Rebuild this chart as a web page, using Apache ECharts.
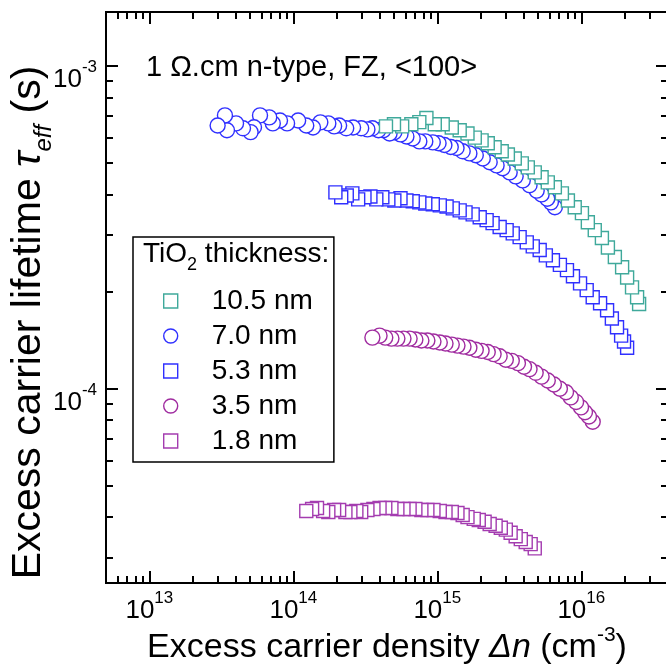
<!DOCTYPE html>
<html lang="en">
<head>
  <meta charset="UTF-8">
  <title>Excess carrier lifetime vs excess carrier density</title>
  <script src="https://cdn.jsdelivr.net/npm/echarts@6.0.0/dist/echarts.min.js"></script>
  <style>
    html, body { margin: 0; padding: 0; background: #fff; }
    #chart { width: 666px; height: 671px; }
  </style>
</head>
<body>
  <div id="chart"></div>

  <script>
    // values: dn in cm^-3, tau in s (listed from low to high dn)
    const dn105 = [4.4e14, 5.0e14, 5.7e14, 6.6e14, 7.5e14, 8.4e14, 9.6e14, 1.09e15, 1.26e15, 1.43e15, 1.62e15, 1.82e15, 2.03e15, 2.24e15, 2.5e15, 2.8e15, 3.09e15, 3.45e15, 3.86e15, 4.25e15, 4.75e15, 5.3e15, 5.85e15, 6.55e15, 7.33e15, 8.07e15, 9.0e15, 1.01e16, 1.11e16, 1.24e16, 1.39e16, 1.53e16, 1.71e16, 1.92e16, 2.08e16, 2.25e16, 2.44e16, 2.52e16];
    const tau105 = [6.5e-4, 6.6e-4, 6.5e-4, 6.6e-4, 6.7e-4, 6.9e-4, 6.6e-4, 6.6e-4, 6.45e-4, 6.32e-4, 6.18e-4, 6.0e-4, 5.88e-4, 5.76e-4, 5.6e-4, 5.44e-4, 5.32e-4, 5.17e-4, 4.99e-4, 4.85e-4, 4.68e-4, 4.52e-4, 4.36e-4, 4.21e-4, 4.03e-4, 3.83e-4, 3.65e-4, 3.5e-4, 3.28e-4, 3.1e-4, 2.93e-4, 2.74e-4, 2.56e-4, 2.38e-4, 2.21e-4, 2.06e-4, 1.92e-4, 1.83e-4];

    const dn70 = [2.98e13, 3.35e13, 3.46e13, 4.0e13, 4.47e13, 5.05e13, 5.33e13, 5.87e13, 6.8e13, 7.2e13, 8.08e13, 9.05e13, 1.08e14, 1.23e14, 1.37e14, 1.54e14, 1.75e14, 1.92e14, 2.08e14, 2.33e14, 2.6e14, 2.96e14, 3.27e14, 3.54e14, 3.9e14, 4.22e14, 4.66e14, 5.03e14, 5.55e14, 6.1e14, 6.75e14, 7.5e14, 8.25e14, 9.3e14, 1.02e15, 1.12e15, 1.24e15, 1.36e15, 1.5e15, 1.67e15, 1.85e15, 2.07e15, 2.31e15, 2.58e15, 2.84e15, 3.18e15, 3.5e15, 3.92e15, 4.37e15, 4.9e15, 5.3e15, 5.8e15, 6.15e15, 6.55e15];
    const tau70 = [6.54e-4, 7.03e-4, 6.32e-4, 6.64e-4, 6.41e-4, 6.24e-4, 6.46e-4, 7.03e-4, 6.93e-4, 6.64e-4, 6.78e-4, 6.64e-4, 6.78e-4, 6.54e-4, 6.45e-4, 6.69e-4, 6.64e-4, 6.5e-4, 6.54e-4, 6.41e-4, 6.45e-4, 6.41e-4, 6.36e-4, 6.41e-4, 6.32e-4, 6.32e-4, 6.18e-4, 6.23e-4, 6.14e-4, 6.05e-4, 5.96e-4, 5.84e-4, 5.84e-4, 5.8e-4, 5.76e-4, 5.69e-4, 5.61e-4, 5.57e-4, 5.44e-4, 5.36e-4, 5.29e-4, 5.17e-4, 5.03e-4, 4.92e-4, 4.82e-4, 4.68e-4, 4.55e-4, 4.42e-4, 4.27e-4, 4.11e-4, 4.0e-4, 3.88e-4, 3.78e-4, 3.65e-4];

    const dn53 = [1.96e14, 2.15e14, 2.35e14, 2.57e14, 2.82e14, 3.12e14, 3.43e14, 3.77e14, 4.15e14, 4.57e14, 5.03e14, 5.55e14, 6.1e14, 6.75e14, 7.5e14, 8.25e14, 9.3e14, 1.04e15, 1.16e15, 1.28e15, 1.43e15, 1.57e15, 1.76e15, 1.97e15, 2.2e15, 2.42e15, 2.71e15, 3.03e15, 3.34e15, 3.73e15, 4.18e15, 4.6e15, 5.14e15, 5.67e15, 6.35e15, 7.1e15, 7.95e15, 8.75e15, 9.8e15, 1.09e16, 1.2e16, 1.35e16, 1.51e16, 1.63e16, 1.77e16, 1.89e16, 1.98e16, 2.08e16];
    const tau53 = [4.06e-4, 3.92e-4, 3.97e-4, 4.03e-4, 3.86e-4, 3.92e-4, 3.94e-4, 3.86e-4, 3.92e-4, 3.86e-4, 3.83e-4, 3.89e-4, 3.83e-4, 3.81e-4, 3.78e-4, 3.75e-4, 3.73e-4, 3.7e-4, 3.67e-4, 3.62e-4, 3.57e-4, 3.52e-4, 3.47e-4, 3.4e-4, 3.33e-4, 3.26e-4, 3.17e-4, 3.1e-4, 3.03e-4, 2.95e-4, 2.84e-4, 2.76e-4, 2.69e-4, 2.59e-4, 2.5e-4, 2.42e-4, 2.33e-4, 2.23e-4, 2.12e-4, 2.02e-4, 1.92e-4, 1.84e-4, 1.75e-4, 1.65e-4, 1.55e-4, 1.46e-4, 1.4e-4, 1.34e-4];

    const dn35 = [3.54e14, 3.97e14, 4.35e14, 4.8e14, 5.28e14, 5.82e14, 6.42e14, 7.04e14, 7.75e14, 8.53e14, 9.4e14, 1.04e15, 1.14e15, 1.26e15, 1.38e15, 1.52e15, 1.67e15, 1.85e15, 2.03e15, 2.24e15, 2.46e15, 2.71e15, 2.99e15, 3.29e15, 3.63e15, 4.0e15, 4.37e15, 4.82e15, 5.3e15, 5.85e15, 6.45e15, 7.1e15, 7.83e15, 8.45e15, 9.2e15, 9.95e15, 1.06e16, 1.13e16, 1.2e16];
    const tau35 = [1.44e-4, 1.46e-4, 1.44e-4, 1.43e-4, 1.43e-4, 1.43e-4, 1.43e-4, 1.42e-4, 1.41e-4, 1.41e-4, 1.4e-4, 1.39e-4, 1.38e-4, 1.37e-4, 1.36e-4, 1.35e-4, 1.34e-4, 1.32e-4, 1.31e-4, 1.3e-4, 1.28e-4, 1.26e-4, 1.23e-4, 1.22e-4, 1.2e-4, 1.17e-4, 1.15e-4, 1.12e-4, 1.09e-4, 1.06e-4, 1.03e-4, 1.0e-4, 9.75e-5, 9.4e-5, 9.1e-5, 8.75e-5, 8.45e-5, 8.2e-5, 7.9e-5];

    const dn18 = [1.23e14, 1.35e14, 1.46e14, 1.61e14, 1.75e14, 1.92e14, 2.08e14, 2.3e14, 2.49e14, 2.74e14, 2.96e14, 3.27e14, 3.6e14, 3.97e14, 4.35e14, 4.8e14, 5.28e14, 5.82e14, 6.42e14, 7.04e14, 7.75e14, 8.53e14, 9.4e14, 1.04e15, 1.14e15, 1.26e15, 1.38e15, 1.5e15, 1.62e15, 1.79e15, 1.94e15, 2.13e15, 2.31e15, 2.54e15, 2.76e15, 2.99e15, 3.23e15, 3.5e15, 3.8e15, 4.11e15, 4.45e15, 4.75e15];
    const tau18 = [4.18e-5, 4.24e-5, 4.27e-5, 4.18e-5, 4.15e-5, 4.21e-5, 4.21e-5, 4.15e-5, 4.15e-5, 4.18e-5, 4.15e-5, 4.21e-5, 4.24e-5, 4.27e-5, 4.27e-5, 4.27e-5, 4.24e-5, 4.24e-5, 4.24e-5, 4.24e-5, 4.21e-5, 4.21e-5, 4.21e-5, 4.18e-5, 4.15e-5, 4.15e-5, 4.12e-5, 4.06e-5, 4.0e-5, 3.95e-5, 3.92e-5, 3.87e-5, 3.81e-5, 3.76e-5, 3.71e-5, 3.66e-5, 3.58e-5, 3.49e-5, 3.42e-5, 3.35e-5, 3.3e-5, 3.2e-5];

    // axis ranges and labelled decades
    const xRange = [5e12, 4e16];
    const yRange = [2.5e-5, 1.47e-3];
    const xMajor = [1e13, 1e14, 1e15, 1e16];
    const yMajor = [1e-4, 1e-3];

    const FONT = '"Liberation Sans", Arial, sans-serif';
    const lg = Math.log10;

    // legend order (top to bottom)
    const groups = [
      { name: '10.5 nm', dn: dn105, tau: tau105, color: '#3fa99b', symbol: 'rect', size: 13 },
      { name: '7.0 nm', dn: dn70, tau: tau70, color: '#3030ff', symbol: 'circle', size: 15 },
      { name: '5.3 nm', dn: dn53, tau: tau53, color: '#3030ff', symbol: 'rect', size: 13 },
      { name: '3.5 nm', dn: dn35, tau: tau35, color: '#a02ca0', symbol: 'circle', size: 15 },
      { name: '1.8 nm', dn: dn18, tau: tau18, color: '#a43cb0', symbol: 'rect', size: 13 }
    ];

    // minor ticks at 2..9 x 10^n inside a range (log10 positions)
    function minorsOf(range) {
      const out = [];
      for (let e = Math.floor(lg(range[0])); e <= Math.ceil(lg(range[1])); e++) {
        for (let k = 2; k <= 9; k++) {
          const v = k * Math.pow(10, e);
          if (v >= range[0] && v <= range[1]) out.push(lg(v));
        }
      }
      return out;
    }

    function tickAxis(range, position, values, len) {
      return {
        type: 'value',
        position: position,
        min: lg(range[0]),
        max: lg(range[1]),
        axisLine: { show: true, onZero: false, lineStyle: { color: '#000', width: 2 } },
        axisTick: { show: true, inside: true, length: len, customValues: values, lineStyle: { color: '#000', width: 2 } },
        axisLabel: { show: false },
        splitLine: { show: false }
      };
    }

    const supRich = {
      b: { fontSize: 26, fontFamily: FONT, color: '#000', lineHeight: 34, verticalAlign: 'bottom' },
      s: { fontSize: 17, fontFamily: FONT, color: '#000', lineHeight: 14, verticalAlign: 'top' }
    };

    const xMain = Object.assign(tickAxis(xRange, 'bottom', xMajor.map(lg), 12), {
      axisLabel: {
        show: true,
        customValues: xMajor.map(lg),
        margin: 7,
        formatter: v => '{b|10}{s|' + Math.round(v) + '}',
        rich: supRich
      },
      name: '{a|Excess carrier density }{i|Δn}{a| (cm}{s|-3}{a|)}',
      nameLocation: 'middle',
      nameGap: 42,
      nameMoveOverlap: false,
      nameTextStyle: {
        rich: {
          a: { fontSize: 34, fontFamily: FONT, color: '#000', lineHeight: 40, verticalAlign: 'bottom' },
          i: { fontSize: 34, fontFamily: FONT, fontStyle: 'italic', color: '#000', lineHeight: 40, verticalAlign: 'bottom' },
          s: { fontSize: 21, fontFamily: FONT, color: '#000', lineHeight: 16, verticalAlign: 'top' }
        }
      }
    });

    const yMain = Object.assign(tickAxis(yRange, 'left', yMajor.map(lg), 12), {
      axisLabel: {
        show: true,
        customValues: yMajor.map(lg),
        margin: 9,
        padding: [20, 0, 0, 0],
        formatter: v => '{b|10}{s|' + Math.round(v) + '}',
        rich: supRich
      },
      name: '{a|Excess carrier lifetime }{t|τ}{e|eff}{a| (s)}',
      nameLocation: 'middle',
      nameRotate: 90,
      nameGap: 50,
      nameMoveOverlap: false,
      nameTextStyle: {
        padding: [0, 50, 0, 0],
        rich: {
          a: { fontSize: 41, fontFamily: FONT, color: '#000', lineHeight: 48, verticalAlign: 'top' },
          t: { fontSize: 41, fontFamily: FONT, fontStyle: 'italic', color: '#000', lineHeight: 48, verticalAlign: 'top' },
          e: { fontSize: 24, fontFamily: FONT, fontStyle: 'italic', color: '#000', lineHeight: 22, verticalAlign: 'bottom' }
        }
      }
    });

    // drawn from 1.8 nm up to 10.5 nm; each set in measured order (high dn first)
    const series = groups.slice().reverse().map(g => ({
      type: 'scatter',
      name: g.name,
      symbol: g.symbol,
      symbolSize: g.size,
      data: g.dn.map((d, i) => [lg(d), lg(g.tau[i])]).reverse(),
      itemStyle: { color: '#fff', borderColor: g.color, borderWidth: 1.4, opacity: 1 },
      emphasis: { disabled: true },
      xAxisIndex: 0,
      yAxisIndex: 0
    }));

    const chart = echarts.init(document.getElementById('chart'));

    const option = {
      backgroundColor: '#fff',
      animation: false,
      grid: { left: 106, right: -2, top: 12, bottom: 88, containLabel: false, outerBoundsMode: 'none' },
      title: [
        {
          text: '1 Ω.cm n-type, FZ, <100>',
          left: 146, top: 53, padding: 0,
          textStyle: { fontSize: 29, fontWeight: 'normal', fontFamily: FONT, color: '#000' }
        },
        {
          text: '{a|TiO}{sub|2}{a| thickness:}',
          left: 143, top: 240, padding: 0,
          textStyle: {
            fontWeight: 'normal',
            rich: {
              a: { fontSize: 28, fontWeight: 'normal', fontFamily: FONT, color: '#000', lineHeight: 34, verticalAlign: 'top' },
              sub: { fontSize: 18, fontWeight: 'normal', fontFamily: FONT, color: '#000', lineHeight: 18, verticalAlign: 'bottom' }
            }
          }
        }
      ],
      legend: {
        orient: 'vertical',
        left: 133,
        top: 237,
        padding: [50, 21, 7, 30],
        itemGap: 7,
        itemWidth: 14,
        itemHeight: 14,
        borderColor: '#000',
        borderWidth: 1.5,
        selectedMode: false,
        textStyle: { fontSize: 28, fontFamily: FONT, color: '#000', lineHeight: 28, padding: [0, 0, 0, 29] },
        data: groups.map(g => ({
          name: g.name,
          icon: g.symbol,
          itemStyle: { color: '#fff', borderColor: g.color, borderWidth: 1.4 }
        }))
      },
      xAxis: [
        xMain,
        tickAxis(xRange, 'bottom', minorsOf(xRange), 7),
        tickAxis(xRange, 'top', xMajor.map(lg), 12),
        tickAxis(xRange, 'top', minorsOf(xRange), 7)
      ],
      yAxis: [
        yMain,
        tickAxis(yRange, 'left', minorsOf(yRange), 7),
        tickAxis(yRange, 'right', yMajor.map(lg), 12),
        tickAxis(yRange, 'right', minorsOf(yRange), 7)
      ],
      series: series
    };

    chart.setOption(option);
  </script>
</body>
</html>
